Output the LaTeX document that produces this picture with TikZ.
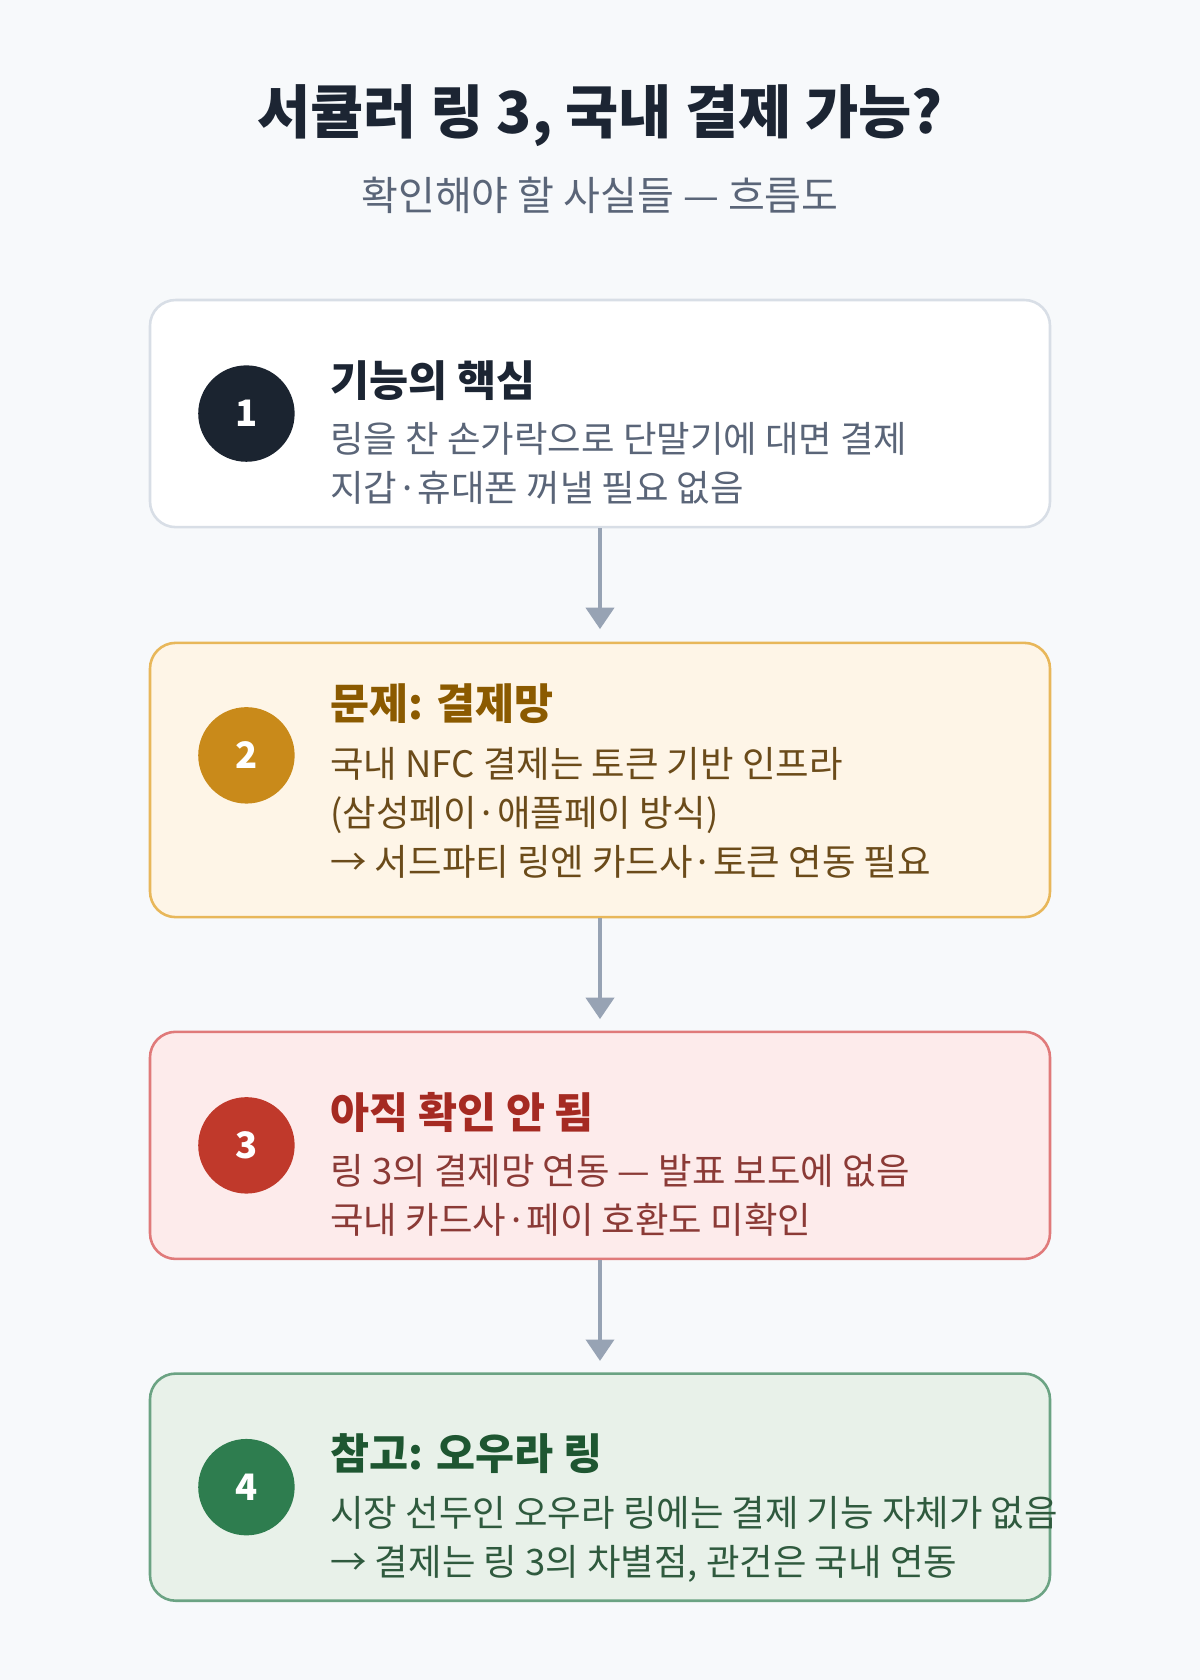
\documentclass[tikz,border=0pt]{standalone}
\usepackage{fontspec}
\setmainfont{Noto Sans CJK KR}
\usetikzlibrary{arrows.meta}
\definecolor{bg}{HTML}{F7F9FB}
\definecolor{ink}{HTML}{1C2533}
\definecolor{sub}{HTML}{5A6578}
\definecolor{arr}{HTML}{97A3B4}
\definecolor{fA}{HTML}{FFFFFF}\definecolor{dA}{HTML}{D8DEE6}\definecolor{hA}{HTML}{1C2533}\definecolor{cA}{HTML}{1B2430}\definecolor{tA}{HTML}{5A6578}
\definecolor{fB}{HTML}{FEF5E7}\definecolor{dB}{HTML}{E8B75A}\definecolor{hB}{HTML}{8B5A00}\definecolor{cB}{HTML}{C98A1A}\definecolor{tB}{HTML}{6B4B1A}
\definecolor{fC}{HTML}{FDEBEB}\definecolor{dC}{HTML}{E07A7A}\definecolor{hC}{HTML}{A52A22}\definecolor{cC}{HTML}{C0392B}\definecolor{tC}{HTML}{8B3A36}
\definecolor{fD}{HTML}{E8F1E9}\definecolor{dD}{HTML}{6BA383}\definecolor{hD}{HTML}{1E5631}\definecolor{cD}{HTML}{2E7D4F}\definecolor{tD}{HTML}{2F5A3E}
\begin{document}
\begin{tikzpicture}[x=0.5pt,y=-0.5pt]
    \tikzstyle{card}=[draw,line width=1.2pt,rounded corners=12pt]
    \tikzstyle{badge}=[circle,minimum size=45pt,inner sep=0pt,text=white,font=\bfseries\fontsize{17}{20}\selectfont]
    \tikzstyle{head}=[anchor=west,inner sep=0pt,font=\bfseries\fontsize{19.8}{22}\selectfont]
    \tikzstyle{body}=[anchor=north west,inner sep=0pt,align=left,font=\fontsize{17}{23}\selectfont]
    \tikzstyle{flow}=[draw=arr,line width=2pt,-{Triangle[length=10pt,width=13pt]}]
    \fill[bg] (0,0) rectangle (1120,1568);
    \node[font=\bfseries\fontsize{27}{30}\selectfont,text=ink] (title) at (560,108) {서큘러 링 3, 국내 결제 가능?};
    \node[font=\fontsize{18.7}{22}\selectfont,text=sub] (subtitle) at (560,182) {확인해야 할 사실들 — 흐름도};
    % cards
    \node[card,draw=dA,fill=fA,minimum width=420pt,minimum height=106pt] (box1) at (560,386) {};
    \node[card,draw=dB,fill=fB,minimum width=420pt,minimum height=128pt] (box2) at (560,728) {};
    \node[card,draw=dC,fill=fC,minimum width=420pt,minimum height=106pt] (box3) at (560,1069) {};
    \node[card,draw=dD,fill=fD,minimum width=420pt,minimum height=106pt] (box4) at (560,1388) {};
    \node[badge,fill=cA] (num1) at (230,386) {1};
    \node[badge,fill=cB] (num2) at (230,705) {2};
    \node[badge,fill=cC] (num3) at (230,1069) {3};
    \node[badge,fill=cD] (num4) at (230,1388) {4};
    \node[head,text=hA] (head1) at (308,355) {기능의 핵심};
    \node[head,text=hB] (head2) at (308,657) {문제: 결제망};
    \node[head,text=hC] (head3) at (308,1038) {아직 확인 안 됨};
    \node[head,text=hD] (head4) at (308,1357) {참고: 오우라 링};
    \node[body,text=tA] (text1) at (308,394) {링을 찬 손가락으로 단말기에 대면 결제\\지갑·휴대폰 꺼낼 필요 없음};
    \node[body,text=tB] (text2) at (308,697) {국내 NFC 결제는 토큰 기반 인프라\\(삼성페이·애플페이 방식)\\→ 서드파티 링엔 카드사·토큰 연동 필요};
    \node[body,text=tC] (text3) at (308,1077) {링 3의 결제망 연동 — 발표 보도에 없음\\국내 카드사·페이 호환도 미확인};
    \node[body,text=tD] (text4) at (308,1396) {시장 선두인 오우라 링에는 결제 기능 자체가 없음\\→ 결제는 링 3의 차별점, 관건은 국내 연동};
    % arrows
    \draw[flow] (box1.south) -- ++(0,94);
    \draw[flow] (box2.south) -- ++(0,94);
    \draw[flow] (box3.south) -- ++(0,94);
\end{tikzpicture}
\end{document}
